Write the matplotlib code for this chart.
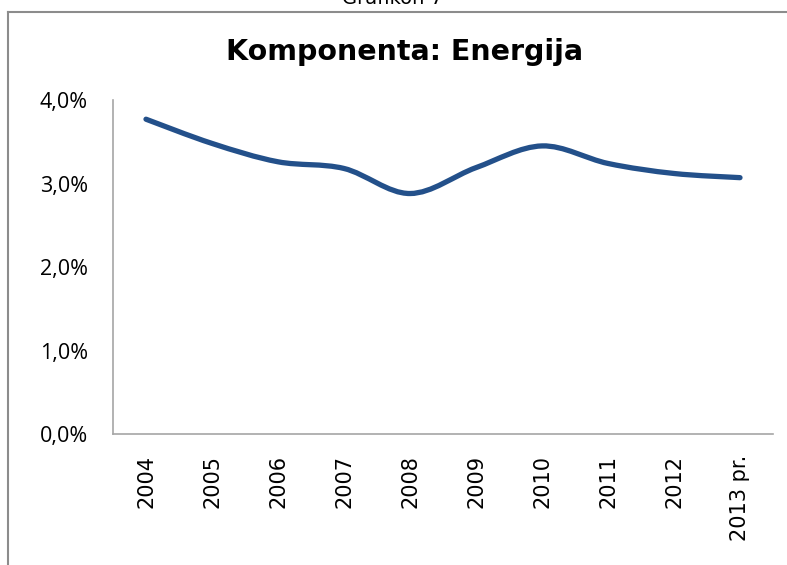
import numpy as np
import matplotlib
matplotlib.use('Agg')
import matplotlib.pyplot as plt
from matplotlib.path import Path
from matplotlib.patches import PathPatch
from matplotlib.lines import Line2D

# podaci
godine = ['2004', '2005', '2006', '2007', '2008', '2009', '2010', '2011', '2012', '2013 pr.']
energija = [3.77, 3.48, 3.26, 3.18, 2.88, 3.19, 3.45, 3.24, 3.12, 3.07]
y_ticks = [0, 1, 2, 3, 4]
y_labels = ['0,0%', '1,0%', '2,0%', '3,0%', '4,0%']

fig = plt.figure(figsize=(7.87, 5.65), dpi=100)
W, H = 787, 565

# okvir grafikona
fig.add_artist(Line2D([8 / W, 8 / W], [0, 1 - 12 / H], color='#8c8c8c', lw=1.5))
fig.add_artist(Line2D([8 / W, 1], [1 - 12 / H, 1 - 12 / H], color='#8c8c8c', lw=1.5))
fig.text(393 / W, 1 + 1 / H, 'Grafikon 7', ha='center', va='center', fontsize=14,
         family='DejaVu Sans')

ax = fig.add_axes([113 / W, 1 - 434 / H, 660 / W, 334 / H])
x = np.arange(len(godine))

# glatka linija (Catmull-Rom -> Bezier), kao u Excelu
pts = np.column_stack([x, energija])
verts = [tuple(pts[0])]
codes = [Path.MOVETO]
n = len(pts)
for i in range(n - 1):
    p0 = pts[max(i - 1, 0)]
    p1 = pts[i]
    p2 = pts[i + 1]
    p3 = pts[min(i + 2, n - 1)]
    c1 = p1 + (p2 - p0) / 6
    c2 = p2 - (p3 - p1) / 6
    verts += [tuple(c1), tuple(c2), tuple(p2)]
    codes += [Path.CURVE4] * 3
ax.add_patch(PathPatch(Path(verts, codes), fill=False, edgecolor='#23508a', lw=3.8,
                       capstyle='round', joinstyle='round'))

ax.set_xlim(-0.5, len(godine) - 0.5)
ax.set_ylim(0, 4)
ax.set_xticks(x)
ax.set_xticklabels(godine, rotation=90, fontsize=15, family='DejaVu Sans')
ax.set_yticks(y_ticks)
ax.set_yticklabels(y_labels, fontsize=15.5, family='Open Sans')
ax.tick_params(axis='x', length=0, pad=15)
ax.tick_params(axis='y', length=0, pad=18)
for s in ['top', 'right']:
    ax.spines[s].set_visible(False)
for s in ['left', 'bottom']:
    ax.spines[s].set_color('#a6a6a6')
    ax.spines[s].set_linewidth(1.2)

fig.text(405 / W, 1 - 52 / H, 'Komponenta: Energija', ha='center', va='center',
         fontsize=20.5, fontweight='bold', family='DejaVu Sans')

fig.savefig('out.png', dpi=100)
